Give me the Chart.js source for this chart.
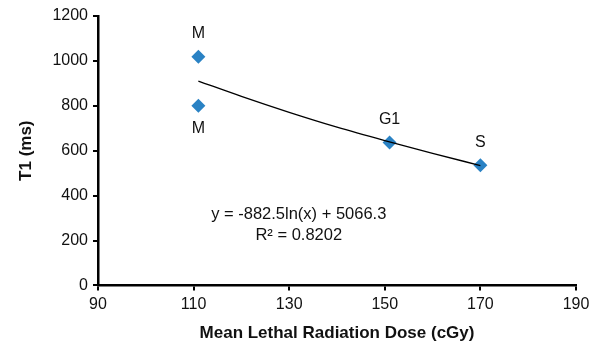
<!DOCTYPE html>
<html>
<head>
<meta charset="utf-8">
<script src="https://cdn.jsdelivr.net/npm/chart.js@4/dist/chart.umd.min.js"></script>
<style>
  html, body { margin: 0; padding: 0; background: #fff; }
  #wrap { width: 601px; height: 345px; }
</style>
</head>
<body>
<div id="wrap"><canvas id="cv" width="601" height="345"></canvas></div>
<script>
// measured points (cGy, ms)
const doseX = [111, 111, 151, 170];
const t1Y = [1018, 800, 636, 535];
const phaseLabels = ['M', 'M', 'G1', 'S'];
// log trend line
const trendX = [111, 120, 130, 140, 150, 160, 170];
const trendY = [910, 842, 771, 705, 645, 588, 534];
const xTicks = [90, 110, 130, 150, 170, 190];
const yTicks = [0, 200, 400, 600, 800, 1000, 1200];
const eqLines = ['y = -882.5ln(x) + 5066.3', 'R\u00b2 = 0.8202'];

const FONT = '"Liberation Sans", Arial, Helvetica, sans-serif';

const labelPlugin = {
  id: 'pointText',
  afterDatasetsDraw(chart) {
    const c = chart.ctx;
    const meta = chart.getDatasetMeta(0);
    c.save();
    c.font = '16px ' + FONT;
    c.fillStyle = '#111';
    c.textAlign = 'center';
    c.textBaseline = 'middle';
    meta.data.forEach((pt, i) => {
      const below = i === 1;
      c.fillText(phaseLabels[i], pt.x, below ? pt.y + 23 : pt.y - 23);
    });
    // trend equation
    const xs = chart.scales.x, ys = chart.scales.y;
    const cx = xs.getPixelForValue(132), cy = ys.getPixelForValue(316);
    c.font = '16.5px ' + FONT;
    c.fillText(eqLines[0], cx, cy);
    c.fillText(eqLines[1], cx, cy + 21);
    c.restore();
  }
};

const axisCommon = {
  border: { color: '#000', width: 2.5 },
  grid: { drawOnChartArea: false, color: '#000', lineWidth: 2, tickLength: 5, tickColor: '#000' },
  ticks: { color: '#111', font: { family: FONT, size: 16 }, padding: 5, autoSkip: false, callback: (v) => String(v) }
};

new Chart(document.getElementById('cv'), {
  type: 'scatter',
  data: {
    datasets: [
      {
        label: 'T1',
        data: doseX.map((x, i) => ({ x, y: t1Y[i] })),
        pointStyle: 'rectRot',
        pointRadius: 7,
        pointHoverRadius: 7,
        backgroundColor: '#2a82c4',
        borderColor: '#2a82c4',
        borderWidth: 0,
        order: 1
      },
      {
        label: 'Trend',
        type: 'line',
        data: trendX.map((x, i) => ({ x, y: trendY[i] })),
        borderColor: '#000',
        borderWidth: 1.3,
        pointRadius: 0,
        fill: false,
        cubicInterpolationMode: 'monotone',
        order: 0
      }
    ]
  },
  options: {
    responsive: false,
    animation: false,
    devicePixelRatio: 1,
    layout: { padding: { top: 16, right: 25, left: 12, bottom: -3 } },
    plugins: { legend: { display: false }, tooltip: { enabled: false } },
    scales: {
      x: {
        ...axisCommon,
        type: 'linear',
        min: 90, max: 190,
        afterBuildTicks: (ax) => { ax.ticks = xTicks.map((v) => ({ value: v })); },
        title: { display: true, text: 'Mean Lethal Radiation Dose (cGy)', color: '#111',
                 font: { family: FONT, size: 17, weight: 'bold' }, padding: { top: 4 } }
      },
      y: {
        ...axisCommon,
        type: 'linear',
        min: 0, max: 1200,
        afterBuildTicks: (ax) => { ax.ticks = yTicks.map((v) => ({ value: v })); },
        title: { display: true, text: 'T1 (ms)', color: '#111',
                 font: { family: FONT, size: 17, weight: 'bold' }, padding: { bottom: 11 } }
      }
    }
  },
  plugins: [labelPlugin]
});
</script>
</body>
</html>
